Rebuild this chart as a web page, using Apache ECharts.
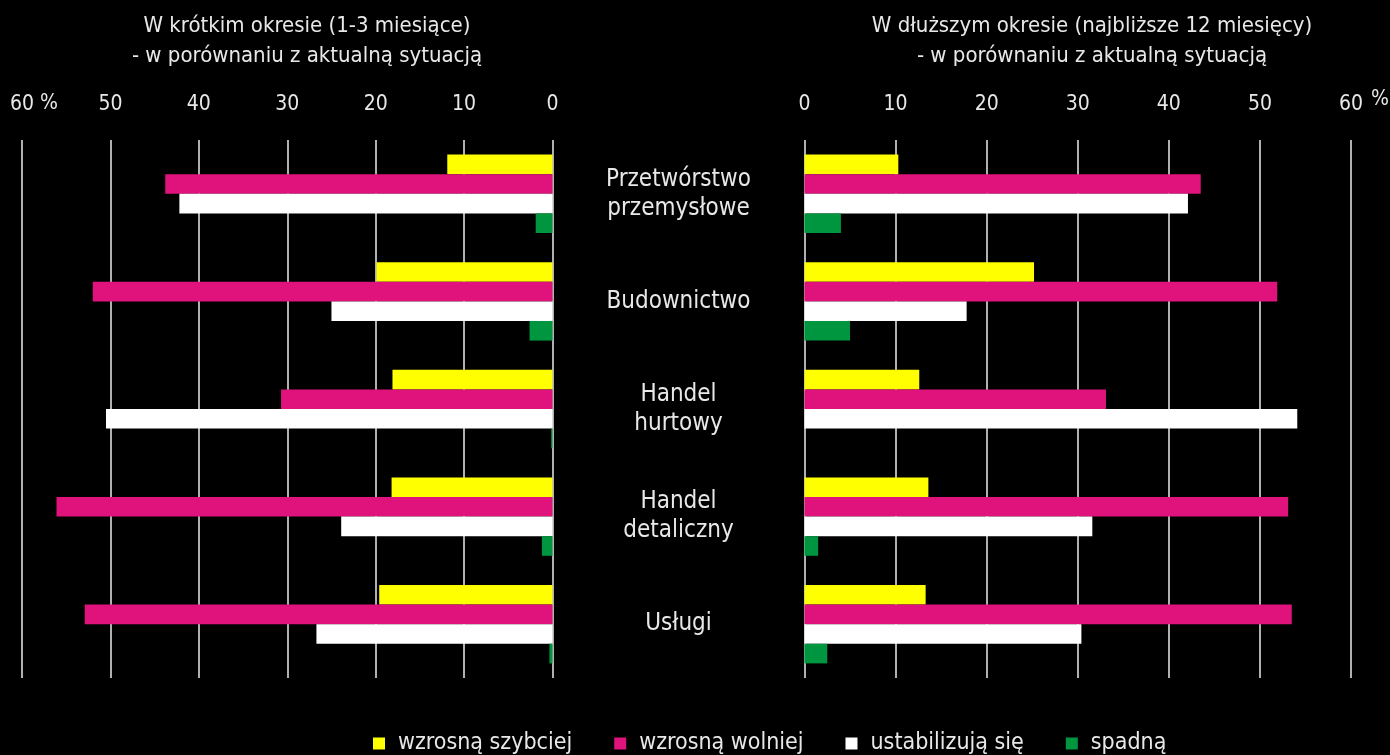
<!DOCTYPE html>
<html><head><meta charset="utf-8">
<script src="https://cdn.jsdelivr.net/npm/echarts@6/dist/echarts.min.js"></script>
<style>html,body{margin:0;padding:0;background:#000;}#c{width:1390px;height:755px;}</style>
</head><body><div id="c"></div>
<script>
const categories = ['Przetwórstwo\nprzemysłowe', 'Budownictwo', 'Handel\nhurtowy', 'Handel\ndetaliczny', 'Usługi'];
const seriesNames = ['wzrosną szybciej', 'wzrosną wolniej', 'ustabilizują się', 'spadną'];
const colors = ['#ffff00', '#df137b', '#ffffff', '#00963f'];
// short term (1-3 months)
const shortFaster = [11.9, 19.9, 18.1, 18.2, 19.6];
const shortSlower = [43.8, 52.0, 30.7, 56.1, 52.9];
const shortStable = [42.2, 25.0, 50.5, 23.9, 26.7];
const shortFall   = [1.9, 2.6, 0.15, 1.2, 0.35];
// longer term (12 months)
const longFaster = [10.3, 25.2, 12.6, 13.6, 13.3];
const longSlower = [43.5, 51.9, 33.1, 53.1, 53.5];
const longStable = [42.1, 17.8, 54.1, 31.6, 30.4];
const longFall   = [4.0, 5.0, 0, 1.5, 2.5];
const tickMin = 0, tickMax = 60, tickStep = 10;

const FONT = '"DejaVu Sans Condensed","Noto Sans",sans-serif';
const TXT = '#e8e8e8';
const chart = echarts.init(document.getElementById('c'));
const shortData = [shortFaster, shortSlower, shortStable, shortFall];
const longData = [longFaster, longSlower, longStable, longFall];
const series = [];
seriesNames.forEach((n, i) => {
  series.push({name: n, type: 'bar', xAxisIndex: 0, yAxisIndex: 0, data: shortData[i],
    barWidth: 19.6, barGap: '0%', itemStyle: {color: colors[i]}, animation: false});
});
seriesNames.forEach((n, i) => {
  series.push({name: n, type: 'bar', xAxisIndex: 1, yAxisIndex: 1, data: longData[i],
    barWidth: 19.6, barGap: '0%', itemStyle: {color: colors[i]}, animation: false});
});
const xAxisCommon = {type: 'value', min: tickMin, max: tickMax, interval: tickStep, position: 'top',
  axisLine: {show: false}, axisTick: {show: false},
  axisLabel: {color: TXT, fontSize: 21, fontFamily: FONT, margin: 25},
  splitLine: {show: true, lineStyle: {color: '#b0b0b0', width: 2}}};
chart.setOption({
  backgroundColor: '#000',
  animation: false,
  textStyle: {fontFamily: FONT},
  title: [
    {text: 'W krótkim okresie (1-3 miesiące)\n- w porównaniu z aktualną sytuacją', left: 302, top: 6, textAlign: 'center',
     textStyle: {color: TXT, fontSize: 22, fontWeight: 'normal', fontFamily: FONT, lineHeight: 30}},
    {text: 'W dłuższym okresie (najbliższe 12 miesięcy)\n- w porównaniu z aktualną sytuacją', left: 1087, top: 6, textAlign: 'center',
     textStyle: {color: TXT, fontSize: 22, fontWeight: 'normal', fontFamily: FONT, lineHeight: 30}}
  ],
  legend: {bottom: -5, left: 368, itemWidth: 12, itemHeight: 12, itemGap: 42, icon: 'rect',
    data: seriesNames, textStyle: {color: TXT, fontSize: 23, fontFamily: FONT, padding: [0, 0, 0, 8]}},
  grid: [
    {left: 22, right: 837.5, top: 140, bottom: 77},
    {left: 804.5, right: 39, top: 140, bottom: 77}
  ],
  xAxis: [
    Object.assign({}, xAxisCommon, {gridIndex: 0, inverse: true}),
    Object.assign({}, xAxisCommon, {gridIndex: 1})
  ],
  yAxis: [
    {type: 'category', gridIndex: 0, data: categories, inverse: true, show: false},
    {type: 'category', gridIndex: 1, data: categories, inverse: true,
     axisLine: {show: false}, axisTick: {show: false},
     axisLabel: {color: TXT, fontSize: 24, fontFamily: FONT, align: 'center', margin: 126, lineHeight: 29}}
  ],
  graphic: [
    {type: 'text', left: 40, top: 93, style: {text: '%', fill: TXT, fontSize: 21, fontFamily: FONT}},
    {type: 'text', left: 1371, top: 89, style: {text: '%', fill: TXT, fontSize: 21, fontFamily: FONT}}
  ],
  series: series
});
</script></body></html>
